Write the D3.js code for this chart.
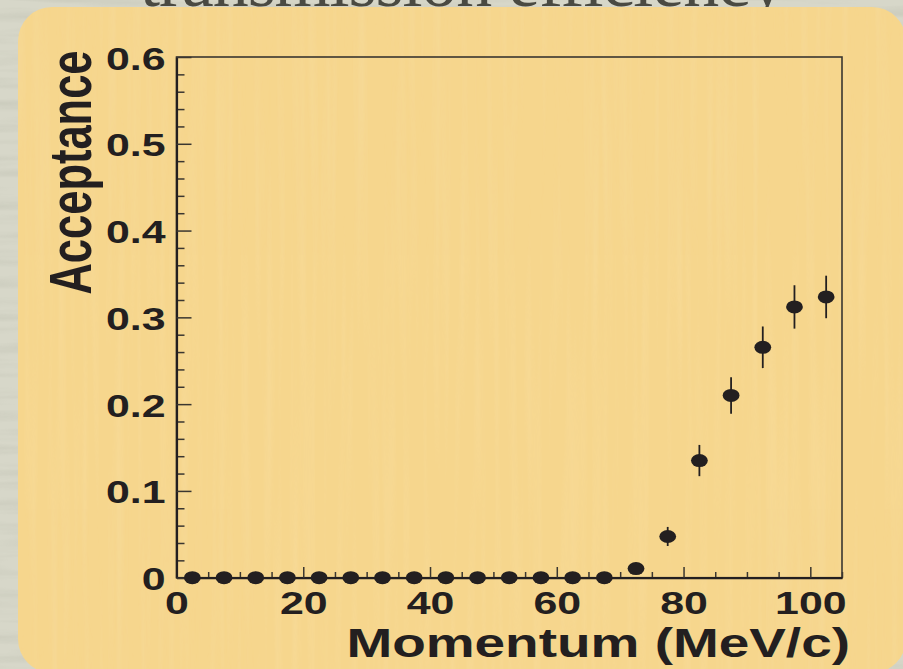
<!DOCTYPE html>
<html>
<head>
<meta charset="utf-8">
<script src="https://cdn.jsdelivr.net/npm/d3@7"></script>
<style>
  body { margin: 0; background: #d6d6c8; }
  svg { display: block; }
  text { font-family: "Liberation Sans", Arial, Helvetica, sans-serif; font-weight: bold; fill: #231f20; }
</style>
</head>
<body>
<script>
const width = 903;
const height = 669;

// bin centres (MeV/c) and measured acceptance
const momentum = [2.5, 7.5, 12.5, 17.5, 22.5, 27.5, 32.5, 37.5, 42.5, 47.5, 52.5,
                  57.5, 62.5, 67.5, 72.5, 77.5, 82.5, 87.5, 92.5, 97.5, 102.5];
const acceptance = [0, 0, 0, 0, 0, 0, 0, 0, 0, 0, 0,
                    0, 0, 0, 0.0105, 0.0475, 0.135, 0.210, 0.2655, 0.312, 0.3235];
const errors = [0, 0, 0, 0, 0, 0, 0, 0, 0, 0, 0,
                0, 0, 0, 0, 0.011, 0.018, 0.021, 0.024, 0.025, 0.0245];

const xMajor = [0, 20, 40, 60, 80, 100];
const xMinor = [5, 10, 15, 25, 30, 35, 45, 50, 55, 65, 70, 75, 85, 90, 95, 105];
const yMajor = [0, 0.1, 0.2, 0.3, 0.4, 0.5, 0.6];
const yMinor = [0.02, 0.04, 0.06, 0.08, 0.12, 0.14, 0.16, 0.18, 0.22, 0.24, 0.26, 0.28,
                0.32, 0.34, 0.36, 0.38, 0.42, 0.44, 0.46, 0.48, 0.52, 0.54, 0.56, 0.58];

const k = 1.34; // horizontal stretch of the lettering
const ink = '#231f20';

const svg = d3.select('body')
              .append('svg')
              .attr('width', width)
              .attr('height', height);

const defs = svg.append('defs');

const grain = defs.append('filter').attr('id', 'grain')
  .attr('x', 0).attr('y', 0).attr('width', '100%').attr('height', '100%');
grain.append('feTurbulence')
  .attr('type', 'fractalNoise')
  .attr('baseFrequency', '0.006 0.09')
  .attr('numOctaves', 3)
  .attr('seed', 7);
grain.append('feColorMatrix')
  .attr('type', 'matrix')
  .attr('values', '0 0 0 0 0.45  0 0 0 0 0.46  0 0 0 0 0.38  0 0 0 2.2 -0.95');

const streak = defs.append('filter').attr('id', 'streak')
  .attr('x', 0).attr('y', 0).attr('width', '100%').attr('height', '100%');
streak.append('feTurbulence')
  .attr('type', 'fractalNoise')
  .attr('baseFrequency', '0.12 0.003')
  .attr('numOctaves', 2)
  .attr('seed', 3);
streak.append('feColorMatrix')
  .attr('type', 'matrix')
  .attr('values', '0 0 0 0 1  0 0 0 0 0.93  0 0 0 0 0.75  0 0 0 1.6 -0.7');

// stone background
svg.append('rect').attr('width', width).attr('height', height).attr('fill', '#d7d7c9');
svg.append('rect').attr('width', width).attr('height', height)
  .attr('filter', 'url(#grain)').attr('opacity', 0.35);

// slide title, mostly above the picture (drawn under the panel)
svg.append('text')
  .attr('x', 140).attr('y', 6)
  .attr('textLength', 645)
  .style('font-family', '"Liberation Serif", "Times New Roman", serif')
  .style('font-weight', 'normal')
  .style('font-size', '72px')
  .style('fill', '#4a4a42')
  .text('transmission efficiency');

// yellow panel
defs.append('clipPath').attr('id', 'panelClip')
  .append('rect').attr('x', 18).attr('y', 7).attr('width', 888).attr('height', 666).attr('rx', 34);
svg.append('rect')
  .attr('x', 18).attr('y', 7).attr('width', 888).attr('height', 666).attr('rx', 34)
  .attr('fill', '#f6d68d');
svg.append('rect').attr('width', width).attr('height', height)
  .attr('clip-path', 'url(#panelClip)')
  .attr('filter', 'url(#streak)').attr('opacity', 0.14);

const x = d3.scaleLinear().domain([0, 105]).range([176.5, 842]);
const y = d3.scaleLinear().domain([0, 0.6]).range([577.7, 57]);

// frame
svg.append('rect')
  .attr('x', x(0)).attr('y', y(0.6))
  .attr('width', x(105) - x(0)).attr('height', y(0) - y(0.6))
  .attr('fill', 'none').attr('stroke', '#3a3630').attr('stroke-width', 1.6);

// x axis
const xAxis = svg.append('g').attr('transform', `translate(0,${y(0)})`);
xAxis.append('g')
  .call(d3.axisBottom(x).tickValues(xMinor).tickSize(-5.7).tickSizeOuter(0).tickFormat(''))
  .call(g => g.select('.domain').remove());
xAxis.append('g')
  .call(d3.axisBottom(x).tickValues(xMajor).tickSize(-10.7).tickSizeOuter(0).tickFormat(d3.format('d')))
  .call(g => g.select('.domain').attr('stroke-width', 2.2).attr('stroke', ink))
  .call(g => g.selectAll('text')
    .attr('y', null).attr('dy', null)
    .attr('transform', `translate(0,36.5) scale(${k},1)`)
    .style('font-size', '32px')
    .attr('fill', ink));
xAxis.selectAll('.tick line').attr('stroke', '#3a3630').attr('stroke-width', 1.5);

// y axis
const yAxis = svg.append('g').attr('transform', `translate(${x(0)},0)`);
yAxis.append('g')
  .call(d3.axisLeft(y).tickValues(yMinor).tickSize(-8).tickSizeOuter(0).tickFormat(''))
  .call(g => g.select('.domain').remove());
yAxis.append('g')
  .call(d3.axisLeft(y).tickValues(yMajor).tickSize(-15).tickSizeOuter(0)
    .tickFormat(d => d === 0 ? '0' : d3.format('.1f')(d)))
  .call(g => g.select('.domain').attr('stroke-width', 2.2).attr('stroke', ink))
  .call(g => g.selectAll('text')
    .attr('x', null).attr('dy', null)
    .attr('transform', `translate(-11,12) scale(${k},1)`)
    .style('font-size', '32px')
    .attr('fill', ink));
yAxis.selectAll('.tick line').attr('stroke', '#3a3630').attr('stroke-width', 1.5);

// axis titles
svg.append('text')
  .attr('transform', `translate(850,657) scale(${k},1)`)
  .attr('text-anchor', 'end')
  .style('font-size', '41px')
  .text('Momentum (MeV/c)');

svg.append('text')
  .attr('transform', `translate(91,172.5) scale(${k},1) rotate(-90)`)
  .attr('text-anchor', 'middle')
  .style('font-size', '43.5px')
  .text('Acceptance');

// data points with error bars
const points = momentum.map((m, i) => ({m: m, a: acceptance[i], e: errors[i]}));

svg.append('g').selectAll('line')
  .data(points.filter(d => d.e > 0))
  .join('line')
  .attr('x1', d => x(d.m)).attr('x2', d => x(d.m))
  .attr('y1', d => y(d.a + d.e)).attr('y2', d => y(d.a - d.e))
  .attr('stroke', ink).attr('stroke-width', 1.8);

svg.append('g').selectAll('ellipse')
  .data(points)
  .join('ellipse')
  .attr('cx', d => x(d.m))
  .attr('cy', d => y(d.a))
  .attr('rx', 8.4)
  .attr('ry', 6.5)
  .attr('fill', ink);
</script>
</body>
</html>
